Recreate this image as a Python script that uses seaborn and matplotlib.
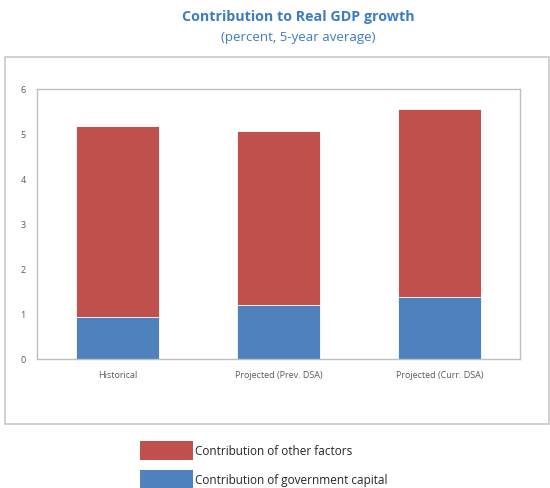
import matplotlib
matplotlib.use("Agg")
import matplotlib.pyplot as plt
import seaborn as sns
import pandas as pd
from matplotlib.patches import Rectangle, Patch

categories = ["Historical", "Projected (Prev. DSA)", "Projected (Curr. DSA)"]
gov_capital = [0.94, 1.19, 1.37]
other_factors = [4.23, 3.87, 4.18]
y_ticks = [0, 1, 2, 3, 4, 5, 6]

sns.set_theme(style="white")
plt.rcParams["font.family"] = ["Open Sans", "DejaVu Sans"]

df = pd.DataFrame({
    "category": categories,
    "gov": gov_capital,
    "other": other_factors,
})
df["total"] = df["gov"] + df["other"]

RED = "#C0504D"
BLUE = "#4F81BD"
GRAY = "#BFBFBF"

fig = plt.figure(figsize=(5.5, 4.89), dpi=100)
W, H = 550, 489
ax = fig.add_axes([37 / W, 1 - 360 / H, (520 - 37) / W, (360 - 90) / H])

sns.barplot(data=df, x="category", y="total", color=RED, width=0.52,
            saturation=1, ax=ax, edgecolor="white", linewidth=0.6)
sns.barplot(data=df, x="category", y="gov", color=BLUE, width=0.52,
            saturation=1, ax=ax, edgecolor="white", linewidth=0.6)

ax.set_ylim(0, 6)
ax.set_yticks(y_ticks)
ax.set_yticklabels([str(t) for t in y_ticks])
ax.set_xlim(-0.5, 2.5)
ax.set_xlabel("")
ax.set_ylabel("")
ax.tick_params(axis="both", length=0, labelsize=6.5, labelcolor="#595959")
ax.tick_params(axis="y", pad=8)
ax.tick_params(axis="x", pad=8)
for s in ax.spines.values():
    s.set_visible(True)
    s.set_color(GRAY)
    s.set_linewidth(1)

# outer chart box
fig.patches.append(Rectangle((5 / W, 1 - 425 / H), 544 / W, 367 / H,
                             transform=fig.transFigure, fill=False,
                             edgecolor="#C8C8C8", linewidth=1.2))

fig.text(298 / W, 1 - 17 / H, "Contribution to Real GDP growth", ha="center",
         va="center", fontsize=10.3, fontweight="bold", color="#3E7CC1")
fig.text(298 / W, 1 - 38 / H, "(percent, 5-year average)", ha="center",
         va="center", fontsize=9.5, color="#3E7CC1")

handles = [Patch(facecolor=RED, edgecolor="none"),
           Patch(facecolor=BLUE, edgecolor="none")]
labels = ["Contribution of other factors", "Contribution of government capital"]
fig.legend(handles, labels, loc="upper left",
           bbox_to_anchor=(135 / W, 1 - 437 / H), frameon=False,
           fontsize=8.5, handlelength=4.5, handleheight=2.1,
           handletextpad=0.2, labelspacing=0.85, borderaxespad=0)

fig.savefig("out.png", dpi=100)
